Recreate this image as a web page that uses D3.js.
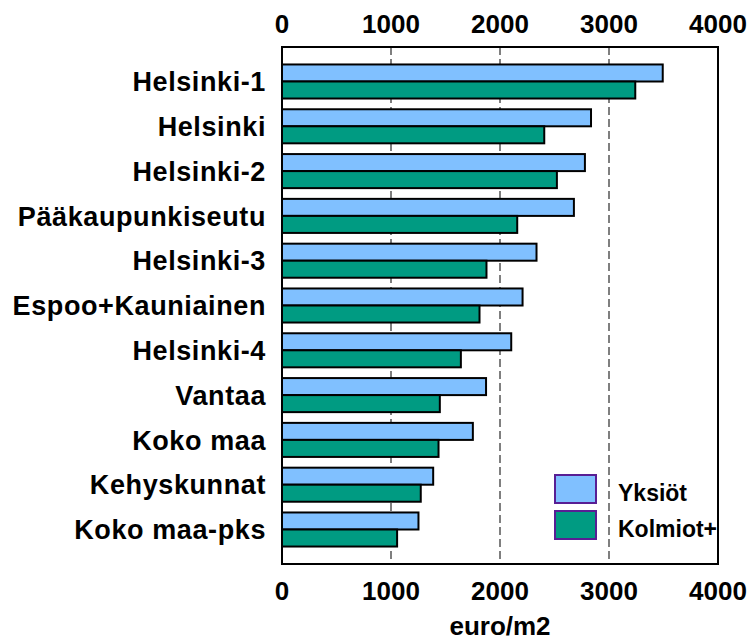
<!DOCTYPE html>
<html>
<head>
<meta charset="utf-8">
<script src="https://cdn.jsdelivr.net/npm/d3@7"></script>
<style>
  body { margin: 0; background: #fff; }
  text { font-family: "Liberation Sans", Arial, sans-serif; font-weight: bold; fill: #000; }
</style>
</head>
<body>
<svg class="bar-chart" width="753" height="641"></svg>
<script>
// categories, top to bottom
const categories = ['Helsinki-1', 'Helsinki', 'Helsinki-2', 'Pääkaupunkiseutu', 'Helsinki-3',
  'Espoo+Kauniainen', 'Helsinki-4', 'Vantaa', 'Koko maa', 'Kehyskunnat', 'Koko maa-pks'];
const seriesNames = ['Yksiöt', 'Kolmiot+'];
const yksiot = [3493, 2835, 2779, 2678, 2335, 2207, 2103, 1872, 1751, 1387, 1252];
const kolmiot = [3241, 2406, 2522, 2158, 1876, 1812, 1641, 1448, 1436, 1273, 1056];
const xTicks = [0, 1000, 2000, 3000, 4000];
const gridValues = [1000, 2000, 3000];
const axisTitle = 'euro/m2';

const colors = ['#80c0ff', '#009b82'];

const margin = { top: 47, right: 35, bottom: 77, left: 282 };
const width = 753, height = 641;

const svg = d3.select('.bar-chart');

const x = d3.scaleLinear()
  .domain([0, 4000])
  .range([margin.left, width - margin.right]);

const y = d3.scaleBand()
  .domain(categories)
  .range([margin.top, height - margin.bottom])
  .paddingInner(0.24)
  .paddingOuter(0.39);

const ySub = d3.scaleBand()
  .domain(seriesNames)
  .range([0, y.bandwidth()]);

// dashed grid lines behind the bars
svg.append('g')
  .selectAll('line')
  .data(gridValues)
  .join('line')
  .attr('x1', d => x(d))
  .attr('x2', d => x(d))
  .attr('y1', margin.top)
  .attr('y2', height - margin.bottom)
  .attr('stroke', '#555')
  .attr('stroke-width', 1.5)
  .attr('stroke-dasharray', '8,4');

const rows = categories.map((c, i) => ({ cat: c, vals: [yksiot[i], kolmiot[i]] }));

const groups = svg.append('g')
  .selectAll('g')
  .data(rows)
  .join('g')
  .attr('transform', d => `translate(0,${y(d.cat)})`);

groups.selectAll('rect')
  .data(d => d.vals.map((v, k) => ({ name: seriesNames[k], value: v, k: k })))
  .join('rect')
  .attr('x', x(0))
  .attr('y', d => ySub(d.name))
  .attr('width', d => x(d.value) - x(0))
  .attr('height', ySub.bandwidth())
  .attr('fill', d => colors[d.k])
  .attr('stroke', '#000')
  .attr('stroke-width', 2);

// frame
svg.append('rect')
  .attr('x', margin.left)
  .attr('y', margin.top)
  .attr('width', width - margin.right - margin.left)
  .attr('height', height - margin.bottom - margin.top)
  .attr('fill', 'none')
  .attr('stroke', '#000')
  .attr('stroke-width', 2);

// tick labels top and bottom
svg.append('g')
  .selectAll('text')
  .data(xTicks)
  .join('text')
  .attr('x', d => x(d))
  .attr('y', 33)
  .attr('text-anchor', 'middle')
  .style('font-size', '26px')
  .text(d => d);

svg.append('g')
  .selectAll('text')
  .data(xTicks)
  .join('text')
  .attr('x', d => x(d))
  .attr('y', 600)
  .attr('text-anchor', 'middle')
  .style('font-size', '26px')
  .text(d => d);

svg.append('text')
  .attr('x', (x(0) + x(4000)) / 2)
  .attr('y', 635)
  .attr('text-anchor', 'middle')
  .style('font-size', '26px')
  .text(axisTitle);

// category labels
svg.append('g')
  .selectAll('text')
  .data(categories)
  .join('text')
  .attr('x', 266)
  .attr('y', d => y(d) + y.bandwidth() / 2)
  .attr('dy', '0.36em')
  .attr('text-anchor', 'end')
  .style('font-size', '27px')
  .style('letter-spacing', '0.6px')
  .text(d => d);

// legend
const legend = svg.append('g')
  .selectAll('g')
  .data(seriesNames)
  .join('g')
  .attr('transform', (d, i) => `translate(555,${475 + i * 36})`);

legend.append('rect')
  .attr('width', 41)
  .attr('height', 28)
  .attr('fill', (d, i) => colors[i])
  .attr('stroke', '#581e94')
  .attr('stroke-width', 2);

legend.append('text')
  .attr('x', 63)
  .attr('y', 26)
  .style('font-size', '23px')
  .text(d => d);
</script>
</body>
</html>
